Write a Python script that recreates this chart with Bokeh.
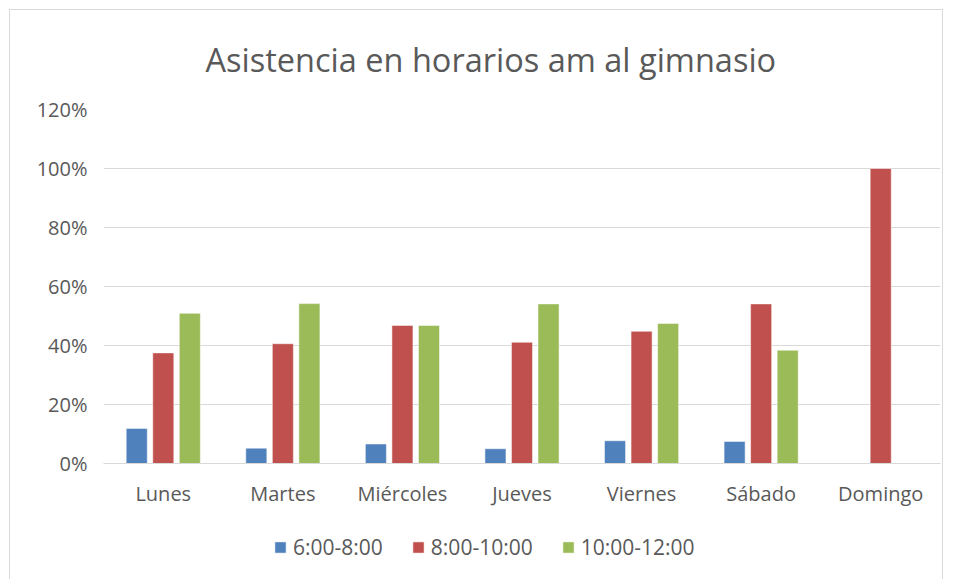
from bokeh.plotting import figure
from bokeh.layouts import column
from bokeh.models import (ColumnDataSource, FactorRange, Legend, LegendItem, NumeralTickFormatter,
                          FixedTicker, Range1d)
from bokeh.transform import dodge
from bokeh.embed import file_html
from bokeh.resources import INLINE

days = ["Lunes", "Martes", "Miércoles", "Jueves", "Viernes", "Sábado", "Domingo"]
series_names = ["6:00-8:00", "8:00-10:00", "10:00-12:00"]
s_6_8 = [0.119, 0.052, 0.066, 0.050, 0.077, 0.075, 0.0]
s_8_10 = [0.375, 0.406, 0.468, 0.411, 0.448, 0.541, 1.0]
s_10_12 = [0.509, 0.542, 0.468, 0.541, 0.475, 0.384, 0.0]
colors = ["#4F81BD", "#C0504D", "#9BBB59"]
y_ticks = [0, 0.2, 0.4, 0.6, 0.8, 1.0, 1.2]
title_text = "Asistencia en horarios am al gimnasio"

src = ColumnDataSource(dict(day=days, a=s_6_8, b=s_8_10, c=s_10_12))

FONT = "Open Sans"
GREY = "#595959"

# main chart
p = figure(x_range=FactorRange(*days), y_range=(0, 1.2), width=932, height=499,
           output_backend="svg", toolbar_location=None,
           min_border_left=93, min_border_right=2, min_border_top=99, min_border_bottom=46)
p.outline_line_color = None

for key, off, col in zip(["a", "b", "c"], [-0.222, 0.0, 0.222], colors):
    p.vbar(x=dodge("day", off, range=p.x_range), top=key, width=0.176, source=src,
           fill_color=col, line_color="white", line_width=0.5)

p.yaxis.ticker = FixedTicker(ticks=y_ticks)
p.yaxis.formatter = NumeralTickFormatter(format="0%")
p.yaxis.axis_line_color = None
p.yaxis.major_tick_line_color = None
p.yaxis.minor_tick_line_color = None
p.yaxis.major_label_standoff = 10
p.xaxis.axis_line_color = "#d9d9d9"
p.xaxis.major_tick_line_color = None
p.xaxis.minor_tick_line_color = None
p.xaxis.major_label_standoff = 10
for ax in (p.xaxis, p.yaxis):
    ax.major_label_text_font = FONT
    ax.major_label_text_font_size = "20px"
    ax.major_label_text_color = GREY
p.xgrid.grid_line_color = None
p.ygrid.grid_line_color = "#d9d9d9"
p.ygrid.ticker = FixedTicker(ticks=y_ticks)
p.x_range.range_padding = 0
p.x_range.factor_padding = 0

p.title.text = title_text
p.title.align = "left"
p.title.vertical_align = "top"
p.title.text_font = FONT
p.title.text_font_size = "32.5px"
p.title.text_font_style = "normal"
p.title.text_color = GREY
p.title.offset = 102
p.title.standoff = 51

# legend strip below the chart (proxy bars drawn from the same data, outside its visible y range)
lg = figure(x_range=FactorRange(*days), y_range=Range1d(10, 11), width=932, height=70,
            output_backend="svg", toolbar_location=None,
            min_border_left=0, min_border_right=0, min_border_top=0, min_border_bottom=0)
lg.xaxis.visible = False
lg.yaxis.visible = False
lg.xgrid.grid_line_color = None
lg.ygrid.grid_line_color = None
lg.outline_line_color = None
items = []
for name, key, col in zip(series_names, ["a", "b", "c"], colors):
    r = lg.vbar(x="day", top=key, width=0.176, source=src,
                fill_color=col, line_color="white", line_width=0.5)
    items.append(LegendItem(label=name, renderers=[r]))

legend = Legend(items=items, orientation="horizontal", location=(170, 18), border_line_color=None,
                label_text_font=FONT, label_text_font_size="21px", label_text_color=GREY,
                glyph_width=14, glyph_height=14, spacing=28, padding=0, margin=0,
                label_standoff=6, background_fill_alpha=0)
lg.add_layout(legend)

layout = column(p, lg, spacing=0)
layout.margin = (9, 0, 0, 9)
layout.styles = {"border": "1px solid #d9d9d9"}

open("out.html", "w").write(file_html(layout, INLINE))
